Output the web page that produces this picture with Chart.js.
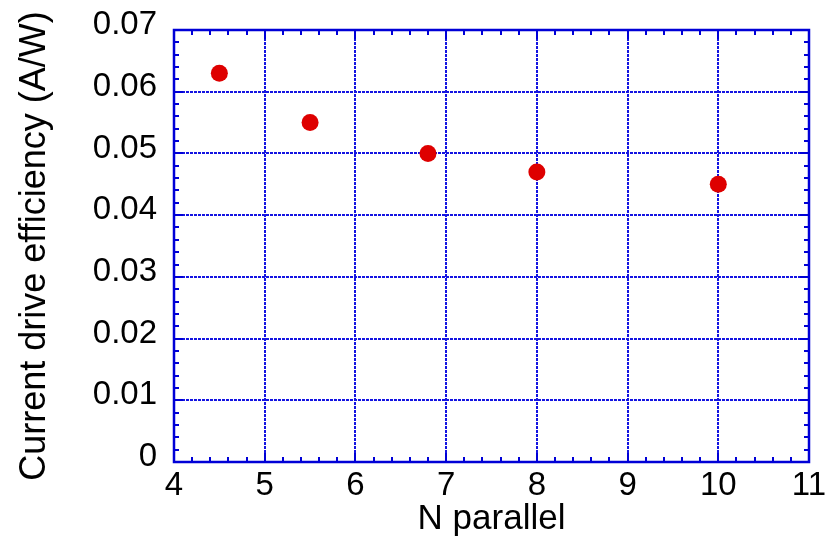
<!DOCTYPE html>
<html>
<head>
<meta charset="utf-8">
<script src="https://cdn.jsdelivr.net/npm/chart.js@4.4.0/dist/chart.umd.min.js"></script>
<style>
  html, body { margin: 0; padding: 0; background: #fff; }
  #wrap { width: 837px; height: 540px; }
</style>
</head>
<body>
<div id="wrap"><canvas id="c" width="837" height="540"></canvas></div>
<script>
const nParallel = [4.5, 5.5, 6.8, 8, 10];
const efficiency = [0.063, 0.055, 0.050, 0.047, 0.045];
const xTickLabels = ['4', '5', '6', '7', '8', '9', '10', '11'];
const yTickLabels = ['0', '0.01', '0.02', '0.03', '0.04', '0.05', '0.06', '0.07'];
const xTitle = 'N parallel';
const yTitle = 'Current drive efficiency (A/W)';

const BLUE = 'rgb(0,0,215)';
const GRID = 'rgb(20,20,225)';
const FONT = "'Liberation Sans', Arial, sans-serif";

const framePlugin = {
  id: 'frame',
  afterDraw(chart) {
    const {ctx, chartArea: a, scales: {x, y}} = chart;
    ctx.save();
    ctx.strokeStyle = BLUE;
    ctx.lineWidth = 2;
    const minorLen = 5, majorLen = 9;
    ctx.beginPath();
    for (let k = 0; k <= 35; k++) {
      const v = 4 + k * 0.2;
      const L = (k % 5 === 0) ? majorLen : minorLen;
      const px = Math.round(x.getPixelForValue(v));
      ctx.moveTo(px, a.bottom); ctx.lineTo(px, a.bottom - L);
      ctx.moveTo(px, a.top); ctx.lineTo(px, a.top + L);
    }
    for (let k = 0; k <= 35; k++) {
      const L = (k % 5 === 0) ? majorLen : minorLen;
      const py = Math.round(y.getPixelForValue(k * 0.002));
      ctx.moveTo(a.left, py); ctx.lineTo(a.left + L, py);
      ctx.moveTo(a.right, py); ctx.lineTo(a.right - L, py);
    }
    ctx.stroke();
    ctx.lineWidth = 2.5;
    ctx.strokeRect(a.left, a.top, a.right - a.left, a.bottom - a.top);
    ctx.restore();
  }
};

new Chart(document.getElementById('c'), {
  type: 'scatter',
  data: {
    datasets: [{
      data: nParallel.map((v, i) => ({x: v, y: efficiency[i]})),
      backgroundColor: 'rgb(222,0,0)',
      borderColor: 'rgb(222,0,0)',
      pointRadius: 8.5,
      pointHoverRadius: 8.5,
      borderWidth: 0
    }]
  },
  options: {
    responsive: false,
    animation: false,
    devicePixelRatio: 1,
    layout: { padding: { left: 0, top: 30, right: 28, bottom: 0 } },
    plugins: { legend: { display: false }, tooltip: { enabled: false } },
    scales: {
      x: {
        type: 'linear', min: 4, max: 11,
        ticks: {
          stepSize: 1, padding: 4, color: '#000',
          font: { family: FONT, size: 33 },
          callback: (v) => xTickLabels[Math.round(v - 4)]
        },
        grid: { color: GRID, lineWidth: 2, drawTicks: false },
        border: { display: false, dash: [3, 1] },
        title: { display: true, text: xTitle, color: '#000',
          font: { family: FONT, size: 35 }, padding: { top: 0, bottom: 0 } },
        afterFit(s) { s.height = 78; s.paddingLeft = 0; s.paddingRight = 0; }
      },
      y: {
        type: 'linear', min: 0, max: 0.07,
        ticks: {
          stepSize: 0.01, padding: 17, color: '#000', labelOffset: -5,
          font: { family: FONT, size: 33 },
          callback: (v) => yTickLabels[Math.round(v / 0.01)]
        },
        grid: { color: GRID, lineWidth: 2, drawTicks: false },
        border: { display: false, dash: [3, 1] },
        title: { display: true, text: yTitle, color: '#000',
          font: { family: FONT, size: 36 }, padding: { top: 13, bottom: 0 } },
        afterFit(s) { s.width = 174; s.paddingTop = 0; s.paddingBottom = 0; }
      }
    }
  },
  plugins: [framePlugin]
});
</script>
</body>
</html>
